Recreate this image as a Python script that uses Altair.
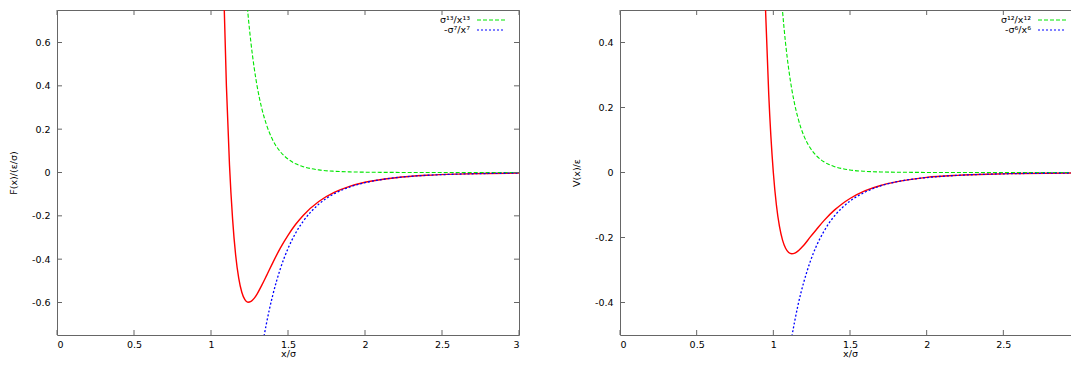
import altair as alt
import pandas as pd

# ---------------- data ----------------
# Left panel: force F(x)/(eps/sigma)
f_tot_x = [1.06, 1.08, 1.10, 1.12, 1.14, 1.16, 1.18, 1.20, 1.22, 1.24, 1.26, 1.28, 1.30, 1.33, 1.36,
           1.40, 1.45, 1.50, 1.55, 1.60, 1.70, 1.80, 1.90, 2.0, 2.2, 2.4, 2.6, 2.8, 3.0]
f_tot_y = [1.64, 0.91, 0.40, 0.036, -0.213, -0.381, -0.488, -0.553, -0.587, -0.599, -0.595, -0.581,
           -0.560, -0.520, -0.477, -0.418, -0.349, -0.290, -0.239, -0.197, -0.134, -0.092, -0.064,
           -0.045, -0.024, -0.013, -0.0074, -0.0044, -0.0027]
f_rep_x = [1.20, 1.22, 1.24, 1.26, 1.28, 1.30, 1.33, 1.36, 1.40, 1.45, 1.50, 1.55, 1.60, 1.70, 1.80,
           1.90, 2.0, 2.2, 2.4, 2.6, 2.8, 3.0]
f_rep_y = [1.12, 0.905, 0.732, 0.595, 0.485, 0.396, 0.295, 0.221, 0.151, 0.096, 0.062, 0.040, 0.027,
           0.012, 0.0058, 0.0029, 0.0015, 0.0004, 0.0001, 0.0, 0.0, 0.0]
f_att_x = [1.30, 1.33, 1.36, 1.40, 1.45, 1.50, 1.55, 1.60, 1.70, 1.80, 1.90, 2.0, 2.2, 2.4, 2.6, 2.8, 3.0]
f_att_y = [-0.956, -0.815, -0.697, -0.569, -0.445, -0.351, -0.279, -0.224, -0.146, -0.098, -0.067,
           -0.047, -0.024, -0.013, -0.0075, -0.0045, -0.0027]

# Right panel: potential V(x)/eps
v_tot_x = [0.93, 0.95, 0.97, 1.00, 1.02, 1.04, 1.06, 1.08, 1.10, 1.12, 1.14, 1.16, 1.18, 1.20, 1.24,
           1.28, 1.33, 1.40, 1.45, 1.50, 1.60, 1.70, 1.80, 1.90, 2.0, 2.2, 2.4, 2.6, 2.8, 3.0]
v_tot_y = [0.843, 0.490, 0.241, 0.0, -0.100, -0.166, -0.208, -0.233, -0.246, -0.250, -0.248, -0.242,
           -0.233, -0.223, -0.199, -0.176, -0.148, -0.115, -0.096, -0.080, -0.056, -0.040, -0.029,
           -0.021, -0.015, -0.0087, -0.0052, -0.0032, -0.0021, -0.0014]
v_rep_x = [1.02, 1.04, 1.06, 1.08, 1.10, 1.12, 1.14, 1.16, 1.18, 1.20, 1.24, 1.28, 1.33, 1.40, 1.45,
           1.50, 1.60, 1.70, 1.80, 1.90, 2.0, 2.2, 2.4, 2.6, 2.8, 3.0]
v_rep_y = [0.789, 0.625, 0.497, 0.397, 0.319, 0.257, 0.208, 0.169, 0.137, 0.112, 0.076, 0.052, 0.033,
           0.018, 0.012, 0.0077, 0.0036, 0.0017, 0.0009, 0.0005, 0.0002, 0.0001, 0.0, 0.0, 0.0, 0.0]
v_att_x = [1.10, 1.12, 1.14, 1.16, 1.18, 1.20, 1.24, 1.28, 1.33, 1.40, 1.45, 1.50, 1.60, 1.70, 1.80,
           1.90, 2.0, 2.2, 2.4, 2.6, 2.8, 3.0]
v_att_y = [-0.565, -0.507, -0.456, -0.410, -0.370, -0.335, -0.275, -0.227, -0.181, -0.133, -0.108,
           -0.088, -0.060, -0.041, -0.029, -0.021, -0.0156, -0.0088, -0.0052, -0.0032, -0.0021, -0.0014]

left_x_ticks = [0, 0.5, 1, 1.5, 2, 2.5, 3]
left_y_ticks = [-0.6, -0.4, -0.2, 0, 0.2, 0.4, 0.6]
right_x_ticks = [0, 0.5, 1, 1.5, 2, 2.5]
right_y_ticks = [-0.4, -0.2, 0, 0.2, 0.4]

left_legend = ["σ¹³/x¹³", "-σ⁷/x⁷"]
right_legend = ["σ¹²/x¹²", "-σ⁶/x⁶"]

FONT = "DejaVu Sans"
FS = 9.5
FRAME = "#666666"
RED, GREEN, BLUE = "#ff0000", "#00e600", "#0000ff"


def panel(tx, ty, rx, ry, ax, ay, xdom, ydom, xticks, yticks, ytitle, legend, W, H, lx):
    xs = alt.Scale(domain=xdom, nice=False, zero=False)
    ys = alt.Scale(domain=ydom, nice=False, zero=False)
    xaxis = alt.Axis(title="x/σ", values=xticks, labelExpr="'' + datum.value",
                     titlePadding=0, labelPadding=4)
    yaxis = alt.Axis(title=ytitle, values=yticks, labelExpr="'' + datum.value",
                     titlePadding=13, labelPadding=7)

    def line(xv, yv, color, dash, sw):
        df = pd.DataFrame({"x": xv, "y": yv})
        kw = dict(color=color, strokeWidth=sw, clip=True, interpolate="monotone")
        if dash:
            kw["strokeDash"] = dash
        return alt.Chart(df).mark_line(**kw).encode(
            x=alt.X("x:Q", scale=xs, axis=xaxis), y=alt.Y("y:Q", scale=ys, axis=yaxis))

    xt = pd.DataFrame({"x": xticks})
    yt = pd.DataFrame({"y": yticks})
    tick_top = alt.Chart(xt).mark_rule(color=FRAME).encode(
        x=alt.X("x:Q", scale=xs, axis=xaxis), y=alt.value(0), y2=alt.value(5))
    tick_bot = alt.Chart(xt).mark_rule(color=FRAME).encode(
        x=alt.X("x:Q", scale=xs, axis=xaxis), y=alt.value(H), y2=alt.value(H - 5))
    tick_left = alt.Chart(yt).mark_rule(color=FRAME).encode(
        y=alt.Y("y:Q", scale=ys, axis=yaxis), x=alt.value(0), x2=alt.value(5))
    tick_right = alt.Chart(yt).mark_rule(color=FRAME).encode(
        y=alt.Y("y:Q", scale=ys, axis=yaxis), x=alt.value(W - 5), x2=alt.value(W))

    one = pd.DataFrame({"t": [legend[0]]})
    two = pd.DataFrame({"t": [legend[1]]})
    leg_t1 = alt.Chart(one).mark_text(align="right", baseline="middle", font=FONT,
                                      fontSize=FS, color="black").encode(
        x=alt.value(lx), y=alt.value(10), text="t:N")
    leg_t2 = alt.Chart(two).mark_text(align="right", baseline="middle", font=FONT,
                                      fontSize=FS, color="black").encode(
        x=alt.value(lx), y=alt.value(20), text="t:N")
    leg_l1 = alt.Chart(one).mark_rule(color=GREEN, strokeDash=[4, 2], strokeWidth=1).encode(
        x=alt.value(lx + 7), x2=alt.value(lx + 37), y=alt.value(10))
    leg_l2 = alt.Chart(two).mark_rule(color=BLUE, strokeDash=[2, 2], strokeWidth=1.2).encode(
        x=alt.value(lx + 7), x2=alt.value(lx + 34), y=alt.value(20))

    return alt.layer(
        line(tx, ty, RED, None, 1.4),
        line(rx, ry, GREEN, [4, 2], 1.1),
        line(ax, ay, BLUE, [2, 2], 1.3),
        tick_top, tick_bot, tick_left, tick_right,
        leg_t1, leg_t2, leg_l1, leg_l2,
    ).properties(width=W, height=H)


left = panel(f_tot_x, f_tot_y, f_rep_x, f_rep_y, f_att_x, f_att_y, [0, 3], [-0.75, 0.75],
             left_x_ticks, left_y_ticks, "F(x)/(ε/σ)", left_legend, 462, 325, 413)
right = panel(v_tot_x, v_tot_y, v_rep_x, v_rep_y, v_att_x, v_att_y, [0, 3], [-0.5, 0.5],
              right_x_ticks, right_y_ticks, "V(x)/ε", right_legend, 460, 325, 411)

chart = alt.hconcat(left, right, spacing=50).properties(
    autosize=alt.AutoSizeParams(type="none"),
    padding={"left": 49, "top": 2, "right": 1014, "bottom": 347},
).configure_view(stroke=FRAME, strokeWidth=1).configure_axis(
    domain=False, ticks=False, grid=False,
    labelFont=FONT, labelFontSize=FS, labelColor="black",
    titleFont=FONT, titleFontSize=FS, titleFontWeight="normal", titleColor="black",
)

chart.save("out.html", embed_options={"renderer": "svg", "actions": False})
